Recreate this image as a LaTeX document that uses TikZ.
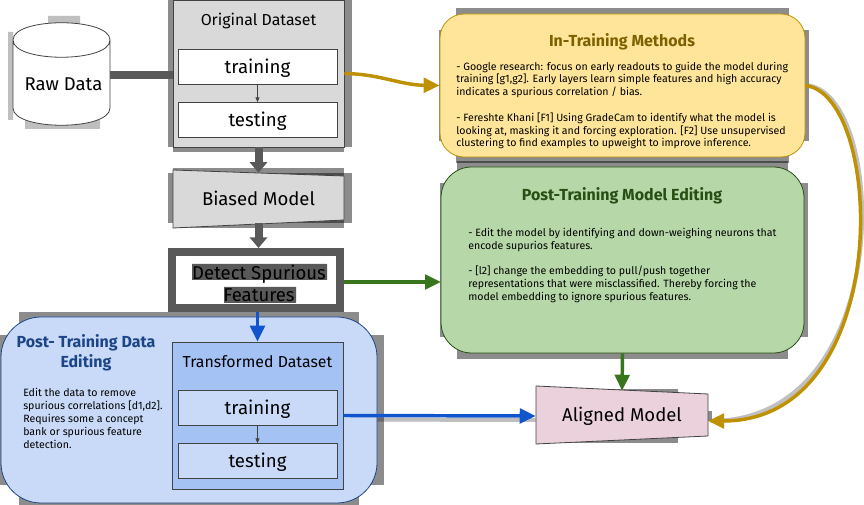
\documentclass[tikz,border=0pt]{standalone}
\usepackage{fontspec}
\setmainfont{Fira Sans}
\usetikzlibrary{arrows.meta, backgrounds}
\definecolor{boxgray}{HTML}{D9D9D9}
\definecolor{armgray}{HTML}{595959}
\definecolor{edgegray}{HTML}{434343}
\definecolor{bluefill}{HTML}{C9DAF8}
\definecolor{bluemid}{HTML}{A4C2F4}
\definecolor{blueline}{HTML}{1155CC}
\definecolor{bluetitle}{HTML}{1C4587}
\definecolor{goldfill}{HTML}{FFE599}
\definecolor{goldline}{HTML}{BF9000}
\definecolor{goldtitle}{HTML}{7F6000}
\definecolor{greenfill}{HTML}{B6D7A8}
\definecolor{greenline}{HTML}{38761D}
\definecolor{greentitle}{HTML}{274E13}
\definecolor{pinkfill}{HTML}{EAD1DC}
\tikzset{
    bandfill/.style={fill=black, fill opacity=0.45},
    box/.style={draw=edgegray, line width=0.6pt, inner sep=0pt},
    split/.style={box, minimum width=159*0.75pt, minimum height=35*0.75pt, text height=11.6pt, text depth=2.4pt, font=\fontsize{14}{17}\selectfont},
    group/.style={box, minimum width=171*0.75pt, minimum height=147*0.75pt, fill=boxgray},
    panel/.style={box},
    title/.style={inner sep=0pt, font=\fontsize{11.9}{14}\selectfont},
    heading/.style={inner sep=0pt, align=center, font=\bfseries\fontsize{12}{14.6}\selectfont},
    body/.style={inner sep=0pt, anchor=west, align=left, font=\fontsize{7.95}{9.6}\selectfont},
    modeltext/.style={inner sep=0pt, font=\fontsize{13.9}{16}\selectfont},
    bigarrow/.style={armgray, line width=6pt, -{Triangle[length=8pt,width=13pt]}},
    colarrow/.style={line width=2.6pt, -{Triangle[length=12pt,width=11pt]}},
    thinarrow/.style={edgegray, line width=0.5pt, -{Triangle[length=3.5pt,width=3pt]}},
    arrowshade/.style={draw=black, draw opacity=0.25, line width=3pt}
}
% grey strips that stick out behind a box: name, left, right, top and bottom, corner inset (in pixels)
\newcommand{\castband}[5]{
    \fill[bandfill] ([xshift=#5*0.75pt, yshift=#4*0.75pt]#1.north west) rectangle ([xshift=-#5*0.75pt, yshift=-#4*0.75pt]#1.south east);
    \fill[bandfill] ([xshift=-#2*0.75pt, yshift=-#5*0.75pt]#1.north west) rectangle ([xshift=#3*0.75pt, yshift=#5*0.75pt]#1.south east);
}
\begin{document}
\begin{tikzpicture}[x=0.75pt, y=-0.75pt]
    \useasboundingbox (0, 0) rectangle (864, 505);
    % grey column
    \node[group] (orig) at (258.5, 73.5) {};
    \node[title] (origtitle) at (258.5, 21) {Original Dataset};
    \node[split, fill=white] (train) at (257.5, 67) {training};
    \node[split, fill=white] (test) at (257.5, 120) {testing};
    \draw[thinarrow] (train) -- (test);
    % drum for the raw data
    \draw[draw=edgegray, fill=white, line width=0.6pt] (13, 40) -- (13, 108) .. controls (13, 131) and (110, 131) .. (110, 108) -- (110, 40)
        .. controls (110, 17) and (13, 17) .. (13, 40) .. controls (13, 63) and (110, 63) .. (110, 40);
    \node[inner sep=0pt, font=\fontsize{13.9}{16}\selectfont] (raw) at (63.5, 84) {Raw Data};
    \coordinate (rawout) at (110, 75);
    \draw[armgray, line width=5.5pt] (rawout) -- (rawout -| orig.west);
    % models, the slanted outlines are drawn by hand
    \draw[box, fill=boxgray] (173, 170) -- (344, 176) -- (344, 220) -- (173, 228) -- cycle;
    \node[modeltext, minimum width=171*0.75pt, minimum height=50*0.75pt] (biased) at (258.5, 198) {Biased Model};
    \draw[bigarrow] (orig.south) -- (biased.north);
    \node[draw=armgray, fill=white, line width=6pt, minimum width=168*0.75pt, minimum height=56*0.75pt, inner sep=0pt] (detect) at (256, 280) {};
    \fill[armgray] (192, 264) rectangle (327, 280) (224, 287) rectangle (296, 303);
    \node[modeltext, align=center, font=\fontsize{13.9}{16.4}\selectfont] (detecttext) at (259, 283) {Detect Spurious\\Features};
    \draw[bigarrow] (biased.south) -- (biased.south |- detect.north);
    % blue block
    \node[panel, rounded corners=30pt, draw=bluetitle, fill=bluefill, minimum width=376*0.75pt, minimum height=186*0.75pt] (dataedit) at (189, 410) {};
    \node[heading, text=bluetitle] (dataedithead) at (86, 353) {Post- Training Data\\Editing};
    \node[body] (dataeditbody) at (23, 418.5) {Edit the data to remove\\spurious correlations [d1,d2].\\Requires some a concept\\bank or spurious feature\\detection.};
    \node[box, fill=bluemid, minimum width=171*0.75pt, minimum height=147*0.75pt] (trans) at (257.5, 415.5) {};
    \node[title] (transtitle) at (257.5, 362) {Transformed Dataset};
    \node[split, fill=bluefill] (train2) at (257.5, 408) {training};
    \node[split, fill=bluefill] (test2) at (257.5, 461) {testing};
    \draw[thinarrow] (train2) -- (test2);
    \draw[colarrow, blueline] (trans.north |- detect.south) -- (trans.north);
    % panels on the right
    \node[panel, rounded corners=18pt, draw=goldline, fill=goldfill, minimum width=365*0.75pt, minimum height=143*0.75pt] (intrain) at (622.5, 85.5) {};
    \node[heading, text=goldtitle] (intrainhead) at (622, 42) {In-Training Methods};
    \node[body] (intrainbody) at (456, 105.5) {- Google research: focus on early readouts to guide the model during\\training [g1,g2]. Early layers learn simple features and high accuracy\\indicates a spurious correlation / bias.\\[9.6pt]- Fereshte Khani [F1] Using GradeCam to identify what the model is\\looking at, masking it and forcing exploration. [F2] Use unsupervised\\clustering to find examples to upweight to improve inference.};
    \node[panel, rounded corners=23pt, draw=greentitle, fill=greenfill, minimum width=363*0.75pt, minimum height=186*0.75pt] (postmodel) at (622.5, 260) {};
    \node[heading, text=greentitle] (postmodelhead) at (622, 196) {Post-Training Model Editing};
    \node[body] (postmodelbody) at (468, 265.5) {- Edit the model by identifying and down-weighing neurons that\\encode supurios features.\\[9.6pt]- [l2] change the embedding to pull/push together\\representations that were misclassified. Thereby forcing the\\model embedding to ignore spurious features.};
    \draw[box, fill=pinkfill] (536, 386) -- (708, 394) -- (708, 436) -- (536, 444) -- cycle;
    \node[modeltext, minimum width=172*0.75pt, minimum height=50*0.75pt] (aligned) at (622, 416) {Aligned Model};
    \coordinate (alignedin) at (708, 421);
    \coordinate (postin) at (441, 282);
    % coloured connectors
    \draw[colarrow, goldline] (orig.east) .. controls (380, 74) and (400, 85) .. (intrain.west);
    \draw[colarrow, greenline] (detect.east |- postin) -- (postin);
    \draw[colarrow, blueline] (trans.east) -- (aligned.west);
    \draw[colarrow, greenline] (postmodel.south) -- (aligned.north);
    \draw[colarrow, goldline] (intrain.east) .. controls (885, 95) and (895, 421) .. (alignedin);
    % shadow strips go under everything
    \begin{scope}[on background layer]
        \castband{orig}{5}{8}{5}{0}
        \castband{biased}{5}{8}{5}{0}
        \castband{dataedit}{1}{7}{5}{18}
        \castband{intrain}{1}{4}{6}{16}
        \castband{postmodel}{1}{4}{6}{16}
        \castband{aligned}{0}{4}{2}{30}
        \fill[bandfill, fill opacity=0.25] (8, 32) rectangle (13, 120) (48, 16) rectangle (80, 24) (25, 120) rectangle (100, 129);
        \draw[arrowshade, transform canvas={xshift=2pt}] (intrain.east) .. controls (885, 95) and (895, 421) .. (alignedin);
        \draw[arrowshade, transform canvas={yshift=-3pt}] (trans.east) -- (aligned.west);
    \end{scope}
\end{tikzpicture}
\end{document}
